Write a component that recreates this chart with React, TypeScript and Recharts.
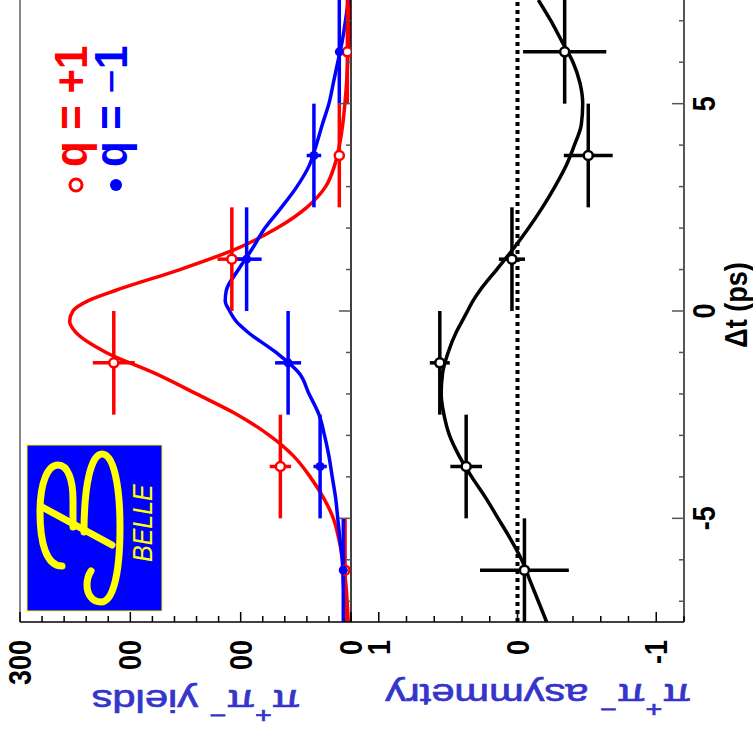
import React from 'react';
import { ComposedChart, Line, Scatter, XAxis, YAxis, ErrorBar, ReferenceLine } from 'recharts';

// fit curves (Δt in ps)
const curveT = [-7.5, -7, -6.5, -6, -5.5, -5, -4.5, -4, -3.5, -3, -2.5, -2, -1.5, -1, -0.5, -0.25, 0, 0.25, 0.5, 1, 1.5, 2, 2.5, 3, 3.5, 4, 4.5, 5, 5.5, 6, 6.5, 7, 7.5];
const redCurve = [2.5, 3.5, 5, 7.5, 11, 16, 25, 37, 52, 74, 103, 140, 178, 222, 250, 255, 252, 238, 213, 155, 104, 67, 40, 23, 15, 10.5, 7.5, 5.5, 4, 3, 2, 1.5, 1];
const blueCurve = [5.4, 6, 7, 8, 10, 12, 14, 17, 20, 24, 29, 38, 47, 68, 94, 104, 110, 114, 113, 102, 89.5, 78, 63, 49, 38, 31.5, 26, 20, 16, 12, 8, 5, 2.4];
const asymCurve = [-0.21, -0.15, -0.09, -0.03, 0.05, 0.14, 0.23, 0.33, 0.42, 0.49, 0.53, 0.55, 0.54, 0.5, 0.44, 0.4, 0.36, 0.32, 0.27, 0.15, 0.03, -0.08, -0.18, -0.27, -0.35, -0.41, -0.46, -0.47, -0.45, -0.4, -0.32, -0.24, -0.15];

// binned data points
const binCenters = [-6.25, -3.75, -1.25, 1.25, 3.75, 6.25];
const binHalfWidth = [1.25, 1.25, 1.25, 1.25, 1.25, 1.25];
const redYield = [5.4, 64, 215, 108, 10.6, 3.3];
const redYieldErr = [2, 9.7, 19, 13, 3, 2];
const blueYield = [7, 28, 57, 94.6, 33.6, 10.6];
const blueYieldErr = [2, 6, 11.8, 13.6, 6.6, 3];
const asymValue = [-0.05, 0.37, 0.56, 0.04, -0.51, -0.34];
const asymErr = [0.32, 0.114, 0.072, 0.094, 0.176, 0.3];

// axes
const timeTicks = [-7, -6, -5, -4, -3, -2, -1, 0, 1, 2, 3, 4, 5, 6, 7];
const timeLabelValues = [-5, 0, 5];
const timeLabels = ['-5', '0', '5'];
const yieldTicks = [0, 20, 40, 60, 80, 100, 120, 140, 160, 180, 200, 220, 240, 260, 280, 300];
const yieldLabelValues = [0, 100, 200, 300];
const yieldLabels = ['0', '00', '00', '300'];
const asymTicks = [-1.2, -1, -0.8, -0.6, -0.4, -0.2, 0, 0.2, 0.4, 0.6, 0.8, 1, 1.2];
const asymLabelValues = [-1, 0, 1];
const asymLabels = ['-1', '0', '1'];

const W = 753;
const H = 735;
const FONT = '"Liberation Sans", Arial, Helvetica, sans-serif';
const TITLE_COLOR = '#3535cc';

const yieldRows = curveT.map((t, i) => ({ t, red: redCurve[i], blue: blueCurve[i] }));
const asymRows = curveT.map((t, i) => ({ t, asym: asymCurve[i] }));
const redPoints = binCenters.map((t, i) => ({ t, v: redYield[i], ev: redYieldErr[i], et: binHalfWidth[i] }));
const bluePoints = binCenters.map((t, i) => ({ t, v: blueYield[i], ev: blueYieldErr[i], et: binHalfWidth[i] }));
const asymPoints = binCenters.map((t, i) => ({ t, v: asymValue[i], ev: asymErr[i], et: binHalfWidth[i] }));

function close(a: number, b: number) {
  return Math.abs(a - b) < 1e-6;
}

function BottomTick(props: any) {
  const { x, y, payload, labelValues, labels } = props;
  const i = labelValues.findIndex((v: number) => close(v, payload.value));
  const major = i >= 0;
  return (
    <g>
      <line x1={x} x2={x} y1={y} y2={y - (major ? 10 : 6)} stroke="#000" strokeWidth={1.5} />
      {major && (
        <text
          transform={`translate(${x + 11},${y + 18}) scale(1.14,1) rotate(-90)`}
          textAnchor="end"
          fontFamily={FONT}
          fontWeight="bold"
          fontSize={27}
          fill="#000"
        >
          {labels[i]}
        </text>
      )}
    </g>
  );
}

function TimeTick(props: any) {
  const { x, y, payload, showLabels } = props;
  const i = timeLabelValues.findIndex((v) => close(v, payload.value));
  const major = i >= 0;
  return (
    <g>
      <line x1={x} x2={x - (major ? 12 : 5)} y1={y} y2={y} stroke="#555" strokeWidth={1.5} />
      {showLabels && major && (
        <text
          transform={`translate(${x + 31},${y}) scale(1.14,1) rotate(-90)`}
          textAnchor="middle"
          fontFamily={FONT}
          fontWeight="bold"
          fontSize={27}
          fill="#000"
        >
          {timeLabels[i]}
        </text>
      )}
    </g>
  );
}

const openCircle = (color: string) => (p: any) => (
  <circle cx={p.cx} cy={p.cy} r={4.5} fill="#fff" stroke={color} strokeWidth={2.5} />
);
const fullDot = (color: string) => (p: any) => <circle cx={p.cx} cy={p.cy} r={4.5} fill={color} />;

function YieldsPanel() {
  return (
    <ComposedChart width={W} height={H} layout="vertical" data={yieldRows} margin={{ top: 0, right: 382, bottom: 83, left: 20 }}>
      <XAxis
        type="number"
        dataKey="v"
        domain={[0, 300]}
        reversed
        allowDataOverflow
        ticks={yieldTicks}
        interval={0}
        height={30}
        tickSize={0}
        tickMargin={0}
        tickLine={false}
        axisLine={{ stroke: '#000', strokeWidth: 1.5 }}
        tick={<BottomTick labelValues={yieldLabelValues} labels={yieldLabels} />}
      />
      <YAxis
        type="number"
        dataKey="t"
        orientation="right"
        domain={[-7.5, 7.5]}
        reversed
        allowDataOverflow
        ticks={timeTicks}
        interval={0}
        width={20}
        tickSize={0}
        tickMargin={0}
        tickLine={false}
        axisLine={{ stroke: '#000', strokeWidth: 1.5 }}
        tick={<TimeTick showLabels={false} />}
      />
      <ReferenceLine x={300} stroke="#888" strokeWidth={2} />
      <Line dataKey="red" type="monotone" stroke="#ff0000" strokeWidth={3.5} dot={false} isAnimationActive={false} />
      <Line dataKey="blue" type="monotone" stroke="#0000ff" strokeWidth={3.5} dot={false} isAnimationActive={false} />
      <Scatter data={redPoints} shape={openCircle('#ff0000')} isAnimationActive={false}>
        <ErrorBar dataKey="ev" direction="x" width={0} stroke="#ff0000" strokeWidth={3.5} isAnimationActive={false} />
        <ErrorBar dataKey="et" direction="y" width={0} stroke="#ff0000" strokeWidth={3.5} isAnimationActive={false} />
      </Scatter>
      <Scatter data={bluePoints} shape={fullDot('#0000ff')} isAnimationActive={false}>
        <ErrorBar dataKey="ev" direction="x" width={0} stroke="#0000ff" strokeWidth={3.5} isAnimationActive={false} />
        <ErrorBar dataKey="et" direction="y" width={0} stroke="#0000ff" strokeWidth={3.5} isAnimationActive={false} />
      </Scatter>
    </ComposedChart>
  );
}

function AsymmetryPanel() {
  return (
    <ComposedChart width={W} height={H} layout="vertical" data={asymRows} margin={{ top: 0, right: 49, bottom: 83, left: 351 }}>
      <XAxis
        type="number"
        dataKey="v"
        domain={[-1.2, 1.2]}
        reversed
        allowDataOverflow
        ticks={asymTicks}
        interval={0}
        height={30}
        tickSize={0}
        tickMargin={0}
        tickLine={false}
        axisLine={{ stroke: '#000', strokeWidth: 1.5 }}
        tick={<BottomTick labelValues={asymLabelValues} labels={asymLabels} />}
      />
      <YAxis
        type="number"
        dataKey="t"
        orientation="right"
        domain={[-7.5, 7.5]}
        reversed
        allowDataOverflow
        ticks={timeTicks}
        interval={0}
        width={20}
        tickSize={0}
        tickMargin={0}
        tickLine={false}
        axisLine={{ stroke: '#555', strokeWidth: 2 }}
        tick={<TimeTick showLabels />}
      />
      <ReferenceLine x={0} stroke="#000" strokeWidth={4} strokeDasharray="4 4" />
      <Line dataKey="asym" type="monotone" stroke="#000" strokeWidth={3.5} dot={false} isAnimationActive={false} />
      <Scatter data={asymPoints} shape={openCircle('#000')} isAnimationActive={false}>
        <ErrorBar dataKey="ev" direction="x" width={0} stroke="#000" strokeWidth={3.5} isAnimationActive={false} />
        <ErrorBar dataKey="et" direction="y" width={0} stroke="#000" strokeWidth={3.5} isAnimationActive={false} />
      </Scatter>
    </ComposedChart>
  );
}

function Overlay() {
  const sup = { fontSize: 22 };
  return (
    <svg width={W} height={H} style={{ position: 'absolute', left: 0, top: 0, pointerEvents: 'none' }}>
      {/* legend */}
      <circle cx={76} cy={185} r={6} fill="#fff" stroke="#ff0000" strokeWidth={3} />
      <text transform="translate(87,167) scale(1.1,1) rotate(-90)" fontFamily={FONT} fontWeight="bold" fontSize={42} fill="#ff0000">
        q = +1
      </text>
      <circle cx={116} cy={185} r={6} fill="#0000ff" />
      <text transform="translate(127,167) scale(1.1,1) rotate(-90)" fontFamily={FONT} fontWeight="bold" fontSize={42} fill="#0000ff">
        q = <tspan fontWeight="normal">−</tspan>1
      </text>

      {/* Belle logo */}
      <rect x={27} y={445} width={135} height={166} fill="#0000ff" stroke="#ffff00" strokeWidth={1} />
      <g fill="none" stroke="#ffff00" strokeWidth={7} strokeLinecap="round">
        <path d="M 62 566 C 46 566 40 542 40 512 C 40 482 48 465 58 465 C 68 465 73 480 73 500 L 73 527" />
        <path d="M 42 507 L 112 545" />
        <path d="M 84 532 C 84 486 91 454 102 454 C 114 454 120 487 120 527 C 120 574 113 602 101 602 C 92 602 87 594 87 585 C 87 578 89 574 91 571" />
      </g>
      <text transform="translate(152,562) scale(1.13,1) rotate(-90)" fontFamily={FONT} fontStyle="italic" fontSize={25} fill="#ffff00">
        BELLE
      </text>

      {/* axis titles */}
      <text transform="translate(747,305) scale(1.14,1) rotate(-90)" textAnchor="middle" fontFamily={FONT} fontWeight="bold" fontSize={27} fill="#000">
        Δt (ps)
      </text>
      <g stroke={TITLE_COLOR} strokeWidth={0.7}>
        <text transform="translate(196,690) scale(1.3,1) rotate(180)" textAnchor="middle" fontFamily={FONT} fontSize={32} fill={TITLE_COLOR}>
          π<tspan dy={-18} {...sup}>+</tspan>
          <tspan dy={18}>π</tspan>
          <tspan dy={-18} {...sup}>−</tspan>
          <tspan dy={18}> yields</tspan>
        </text>
        <text transform="translate(538,684) scale(1.3,1) rotate(180)" textAnchor="middle" fontFamily={FONT} fontSize={32} fill={TITLE_COLOR}>
          π<tspan dy={-18} {...sup}>+</tspan>
          <tspan dy={18}>π</tspan>
          <tspan dy={-18} {...sup}>−</tspan>
          <tspan dy={18}> asymmetry</tspan>
        </text>
      </g>
    </svg>
  );
}

export default function App() {
  return (
    <div style={{ position: 'absolute', left: 0, top: 0, width: W, height: H, background: '#fff' }}>
      <div style={{ position: 'absolute', left: 0, top: 0 }}>
        <YieldsPanel />
      </div>
      <div style={{ position: 'absolute', left: 0, top: 0 }}>
        <AsymmetryPanel />
      </div>
      <Overlay />
    </div>
  );
}
